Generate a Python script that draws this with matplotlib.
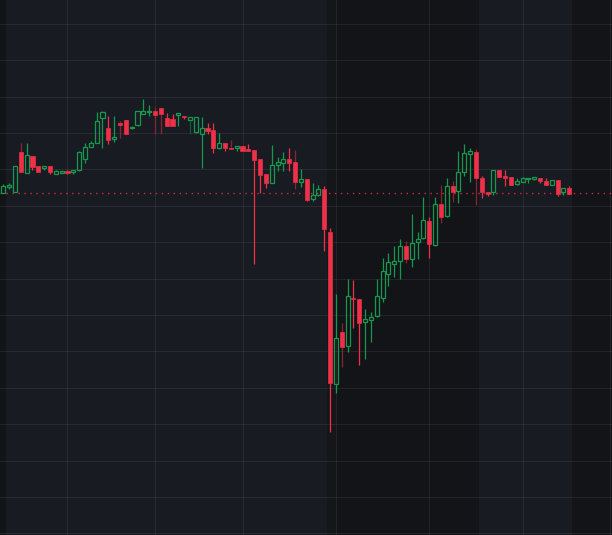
import matplotlib
matplotlib.use("Agg")
import matplotlib.pyplot as plt
from matplotlib.patches import Rectangle
import numpy as np

# OHLC (arbitrary price units, no axis labels shown)
opens = [34.23, 34.83, 34.33, 38.27, 36.23, 37.90, 36.90, 36.73, 36.90, 36.13,
         36.23, 36.40, 36.27, 36.47, 37.57, 38.77, 39.23, 41.67, 40.67, 39.57,
         41.20, 41.47, 40.67, 40.97, 42.13, 42.27, 42.37, 42.70, 41.67, 41.60,
         42.00, 41.93, 41.53, 40.27, 40.13, 40.73, 40.47, 38.67, 39.23, 38.73,
         38.67, 38.85, 38.53, 38.50, 37.57, 36.10, 35.23, 36.97, 37.23, 37.60,
         37.27, 35.30, 35.57, 33.57, 33.97, 34.60, 30.30, 15.07, 20.27, 18.93,
         23.70, 23.57, 21.33, 21.50, 21.90, 23.67, 26.07, 27.13, 27.43, 28.87,
         27.60, 29.30, 29.70, 31.43, 29.00, 33.13, 31.87, 34.90, 34.43, 36.27,
         38.07, 38.33, 35.67, 34.33, 34.33, 36.50, 35.90, 35.77, 35.07, 35.30,
         35.60, 35.63, 35.73, 35.40, 35.03, 35.50, 34.27, 34.67]
highs = [35.07, 35.20, 36.90, 39.23, 39.23, 37.90, 36.90, 36.90, 36.90, 36.50,
         36.33, 36.50, 36.50, 38.40, 39.17, 39.43, 42.27, 42.40, 41.93, 41.93,
         41.40, 41.50, 40.90, 42.40, 43.60, 43.00, 42.77, 42.75, 42.17, 42.07,
         42.20, 41.93, 41.85, 41.85, 41.83, 41.20, 41.20, 40.20, 39.23, 39.50,
         38.93, 38.90, 39.10, 38.50, 37.60, 36.10, 39.00, 37.83, 38.27, 38.67,
         38.50, 36.57, 35.60, 35.23, 35.00, 34.93, 30.67, 24.10, 21.17, 25.57,
         25.50, 23.60, 22.57, 22.33, 25.57, 27.73, 28.17, 28.90, 29.57, 29.40,
         32.10, 30.27, 33.77, 31.77, 33.77, 35.00, 35.67, 35.40, 38.40, 39.10,
         38.67, 38.57, 35.93, 34.33, 36.50, 36.50, 36.50, 35.80, 35.73, 35.83,
         35.73, 35.77, 35.73, 35.67, 35.50, 35.50, 34.70, 34.93]
lows = [34.17, 34.57, 34.30, 36.33, 36.23, 36.50, 36.33, 36.50, 36.07, 36.13,
        36.23, 36.10, 36.13, 36.40, 37.17, 38.77, 39.23, 38.67, 39.07, 39.33,
        39.67, 40.07, 40.63, 40.93, 42.13, 41.93, 40.10, 40.10, 40.90, 40.90,
        40.90, 41.57, 40.10, 40.25, 36.67, 40.10, 38.23, 38.65, 38.43, 38.60,
        38.43, 38.43, 38.43, 27.10, 34.23, 34.73, 35.20, 36.43, 36.43, 36.43,
        34.63, 34.83, 33.40, 33.40, 33.95, 28.43, 10.33, 14.23, 16.83, 18.27,
        20.73, 17.03, 17.60, 19.33, 21.85, 23.27, 24.93, 25.83, 25.63, 27.17,
        26.77, 27.60, 29.60, 27.73, 28.95, 31.17, 31.85, 33.33, 33.17, 35.93,
        35.33, 33.00, 33.67, 33.93, 34.00, 35.83, 34.93, 35.00, 35.05, 35.30,
        35.23, 35.50, 35.23, 35.00, 35.03, 33.93, 34.00, 34.07]
closes = [34.93, 35.00, 36.87, 36.33, 37.97, 36.83, 36.33, 36.90, 36.33, 36.37,
          36.33, 36.20, 36.50, 38.33, 38.83, 39.17, 41.37, 42.33, 39.50, 39.77,
          40.97, 40.07, 40.83, 42.37, 42.37, 42.40, 42.03, 42.13, 40.90, 40.90,
          42.17, 41.80, 41.83, 41.80, 40.67, 40.40, 38.67, 39.17, 38.67, 38.60,
          38.93, 38.43, 38.43, 37.50, 36.03, 35.23, 37.03, 37.27, 37.60, 37.20,
          35.33, 35.57, 33.50, 33.97, 34.60, 30.57, 15.17, 19.67, 18.83, 23.90,
          23.57, 21.23, 21.60, 21.83, 23.93, 26.40, 27.27, 27.43, 28.87, 27.60,
          29.17, 29.60, 31.47, 29.10, 33.13, 31.83, 34.90, 34.30, 36.27, 38.17,
          38.40, 35.67, 34.33, 34.07, 36.50, 35.83, 35.70, 35.00, 35.37, 35.67,
          35.73, 35.77, 35.40, 35.00, 35.50, 34.07, 34.67, 34.07]
dim_wicks = [3, 20, 26, 27, 32, 39, 50, 58, 69, 75, 77, 81]
prev_close = 34.2

# session shading (candle-index boundaries) and grid
sessions = [(-1.0, 0.4, '#131417'), (0.4, 55.5, '#181b22'), (55.5, 57.0, '#151619'),
            (57.0, 81.5, '#131417'), (81.5, 97.5, '#181b22'), (97.5, 106.0, '#131417')]
vgrid = [11, 26, 41, 57, 73, 89, 104]
hgrid = np.arange(0.16, 53.5, 3.64)

up_col = '#14994f'
down_col = '#ee3048'
up_dim = '#0d5c35'
down_dim = '#8a2333'

fig = plt.figure(figsize=(6.12, 5.35), dpi=100)
ax = fig.add_axes([0, 0, 1, 1])
ax.set_xlim(-0.566, 104.32)
ax.set_ylim(0, 53.5)

for x0, x1, c in sessions:
    ax.axvspan(x0, x1, color=c, lw=0, zorder=0)
for g in vgrid:
    ax.axvline(g, color=(1, 1, 1, 0.07), lw=0.8, zorder=1)
for g in hgrid:
    ax.axhline(g, color=(1, 1, 1, 0.07), lw=0.8, zorder=1)

ax.axhline(prev_close, color=down_col, lw=1.0, alpha=0.85,
           linestyle=(0, (1, 3.3)), zorder=2)

w = 0.7
for i, (o, h, l, c) in enumerate(zip(opens, highs, lows, closes)):
    up = c >= o
    col = up_col if up else down_col
    wcol = (up_dim if up else down_dim) if i in dim_wicks else col
    lo_b, hi_b = min(o, c), max(o, c)
    if hi_b - lo_b < 0.15:
        mid = (hi_b + lo_b) / 2
        lo_b, hi_b = mid - 0.075, mid + 0.075
    ax.vlines(i, hi_b, h, color=wcol, lw=0.9, zorder=3)
    ax.vlines(i, l, lo_b, color=wcol, lw=0.9, zorder=3)
    if up:
        ax.add_patch(Rectangle((i - w / 2, lo_b), w, hi_b - lo_b,
                               facecolor='none', edgecolor=col, lw=0.9, zorder=4))
    else:
        ax.add_patch(Rectangle((i - w / 2, lo_b), w, hi_b - lo_b,
                               facecolor=col, edgecolor=col, lw=0.5, zorder=4))

ax.axis('off')
plt.savefig("out.png", dpi=100)
